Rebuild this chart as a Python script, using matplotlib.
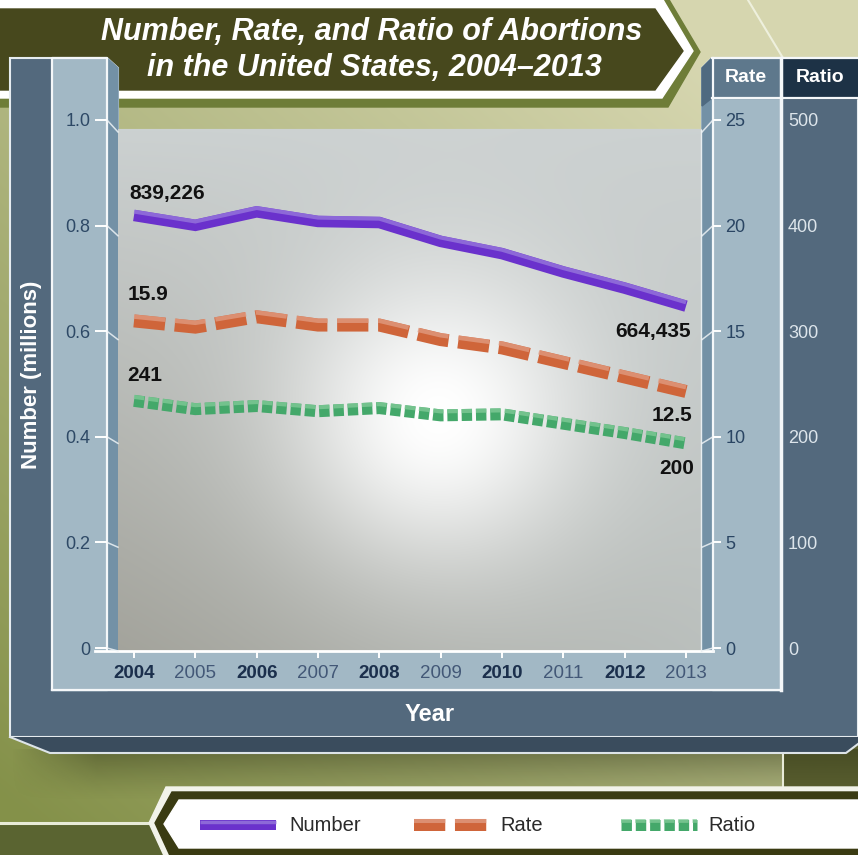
import numpy as np
import matplotlib
matplotlib.use("Agg")
import matplotlib.pyplot as plt
from matplotlib import font_manager
from matplotlib.patches import Polygon, Rectangle
from matplotlib.lines import Line2D
import matplotlib.transforms as mtransforms

# ---------------------------------------------------------------- data
years = [2004, 2005, 2006, 2007, 2008, 2009, 2010, 2011, 2012, 2013]
number_millions = [0.839226, 0.820151, 0.846181, 0.827609, 0.825564,
                   0.789217, 0.765651, 0.730322, 0.699202, 0.664435]
rate_per_1000 = [15.9, 15.6, 16.1, 15.7, 15.7, 15.0, 14.6, 13.9, 13.2, 12.5]
ratio_per_1000 = [241, 233, 236, 231, 234, 227, 228, 219, 210, 200]

number_ticks = [0, 0.2, 0.4, 0.6, 0.8, 1.0]
number_tick_labels = ["0", "0.2", "0.4", "0.6", "0.8", "1.0"]
rate_ticks = [0, 5, 10, 15, 20, 25]
ratio_ticks = [0, 100, 200, 300, 400, 500]

title_lines = ["Number, Rate, and Ratio of Abortions",
               "in the United States, 2004\u20132013"]
legend_labels = ["Number", "Rate", "Ratio"]

# ---------------------------------------------------------------- style
plt.rcParams["lines.scale_dashes"] = False
plt.rcParams["font.family"] = ["Liberation Sans", "DejaVu Sans"]

NUM_C, NUM_L = "#6A31CC", "#9677DC"
RATE_C, RATE_L = "#CF653A", "#E09A80"
RATIO_C, RATIO_L = "#44A86A", "#7FC996"

DARK_SLATE = "#53697D"
LIGHT_SLATE = "#A2B8C5"
WALL = "#7391A6"
NAVY = "#1D3246"


def has_font(name):
    try:
        font_manager.findfont(font_manager.FontProperties(family=name),
                              fallback_to_default=False)
        return True
    except Exception:
        return False


NARROW = "Liberation Sans Narrow" if has_font("Liberation Sans Narrow") else None

W, H = 858, 855
fig = plt.figure(figsize=(W / 100, H / 100), dpi=100)


def frac(x0, y0, x1, y1):
    """Pixel box (top-left origin) -> figure fraction rect."""
    return [x0 / W, 1 - y1 / H, (x1 - x0) / W, (y1 - y0) / H]


# ---------------------------------------------------------------- backdrop
bg = fig.add_axes([0, 0, 1, 1])
bg.set_xlim(0, W)
bg.set_ylim(H, 0)
bg.axis("off")

yy, xx = np.mgrid[0:H, 0:W].astype(float)
pale = np.array([0.84, 0.84, 0.69])
olive = np.array([0.52, 0.57, 0.29])
w = np.clip(0.55 * (1 - xx / W) + 0.65 * (yy / H) - 0.15, 0, 1)[..., None]
bg_img = pale * (1 - w) + olive * w
bg.imshow(bg_img, extent=(0, W, H, 0), aspect="auto", zorder=0,
          interpolation="bilinear")

# darker ground strips near the legend
bg.add_patch(Rectangle((0, 823), 175, 40, color="#5A6431", zorder=1))
bg.plot([0, 152], [823, 823], color="#E8EBD8", lw=2.2, zorder=1.2)
bg.add_patch(Rectangle((783, 745), 80, 45, color="#5B6030", zorder=1))
bg.plot([783, 783], [745, 790], color="#E8EBD8", lw=1.5, zorder=1.2)
bg.plot([748, 783], [0, 58], color="#EEF0DD", lw=1.5, zorder=1.2)

# soft shadow under the frame
sh_y, sh_x = np.mgrid[0:50, 0:200].astype(float)
shadow = np.zeros((50, 200, 4))
shadow[..., :3] = (0.2, 0.22, 0.1)
shadow[..., 3] = (0.5 * (1 - sh_y / 50) ** 1.3
                  * np.clip(sh_x / 20, 0, 1))
bg.imshow(shadow, extent=(10, 858, 800, 750), aspect="auto", zorder=1.1,
          interpolation="bilinear")

# ---------------------------------------------------------------- title banner
bg.add_patch(Polygon([(0, -2), (668, -2), (700, 52), (668, 107), (0, 107)],
                     closed=True, color="#6E7D38", zorder=2))
bg.add_patch(Polygon([(0, -2), (662, -2), (693, 51), (662, 98), (0, 98)],
                     closed=True, color="#FFFFFF", zorder=2.1))
bg.add_patch(Polygon([(0, 9), (655, 9), (683, 51), (655, 90), (0, 90)],
                     closed=True, color="#47481D", zorder=2.2))
if NARROW:
    title_kw = dict(family=[NARROW, "Liberation Sans"], fontsize=24.5)
else:
    title_kw = dict(fontsize=22)
bg.text(372, 32, title_lines[0], color="white", fontweight="bold",
        fontstyle="italic", ha="center", va="center", zorder=2.5, **title_kw)
bg.text(374, 68, title_lines[1], color="white", fontweight="bold",
        fontstyle="italic", ha="center", va="center", zorder=2.5, **title_kw)

# ---------------------------------------------------------------- frame
frame = [(10, 58), (107, 58), (118, 68), (118, 130), (702, 130), (702, 68),
         (712, 58), (858, 58), (858, 737), (10, 737)]
bg.add_patch(Polygon(frame, closed=True, facecolor=DARK_SLATE,
                     edgecolor="#E6ECF0", lw=1.5, zorder=4))
bg.add_patch(Polygon([(10, 737), (858, 737), (858, 744), (846, 753), (50, 753)],
                     closed=True, facecolor="#3A4C5D", edgecolor="none",
                     zorder=4))
bg.plot([10, 50, 846, 858], [737, 753, 753, 744], color="#DDE4E8", lw=1.5,
        zorder=4.1)

# light faces
bg.add_patch(Rectangle((52, 58), 55, 632, color=LIGHT_SLATE, zorder=5))
bg.add_patch(Rectangle((52, 651), 728, 39, color=LIGHT_SLATE, zorder=5))
bg.add_patch(Rectangle((712, 98), 68, 592, color=LIGHT_SLATE, zorder=5))
bg.add_patch(Rectangle((712, 58), 68, 40, color="#5E788C", zorder=5))
bg.add_patch(Rectangle((783, 58), 75, 40, color=NAVY, zorder=5))
# side walls
bg.add_patch(Polygon([(107, 58), (118, 68), (118, 651), (107, 651)],
                     closed=True, color=WALL, zorder=5))
bg.add_patch(Polygon([(702, 68), (712, 58), (712, 651), (702, 651)],
                     closed=True, color=WALL, zorder=5))
bg.add_patch(Polygon([(702, 68), (712, 58), (712, 98), (702, 106)],
                     closed=True, color="#4F6A80", zorder=5.05))

# plot-area backdrop: grey with a soft white glow
ph, pw = 521, 584
gy, gx = np.mgrid[0:ph, 0:pw].astype(float)
top = np.array([0.80, 0.82, 0.82])
bottom_left = np.array([0.64, 0.64, 0.61])
bottom_right = np.array([0.73, 0.75, 0.74])
fy = (gy / ph)[..., None]
fx = (gx / pw)[..., None]
base = top * (1 - fy) + (bottom_left * (1 - fx) + bottom_right * fx) * fy
r = np.hypot(gx - 320, gy - 285)
glow = np.exp(-(r / 150.0) ** 2)[..., None]
plot_img = base * (1 - glow) + np.ones(3) * glow
bg.imshow(plot_img, extent=(118, 702, 651, 130), aspect="auto", zorder=5.1,
          interpolation="bilinear")

# white edges
edge_kw = dict(color="#F4F7F9", lw=1.6, zorder=6)
bg.plot([52, 52, 107, 107], [690, 58, 58, 651], **edge_kw)
bg.plot([52, 780], [690, 690], **edge_kw)
bg.plot([95, 713], [651, 651], color="white", lw=2, zorder=6)
bg.plot([713, 713], [58, 651], **edge_kw)
bg.plot([781, 781], [58, 690], color="#F4F7F9", lw=2.5, zorder=6)
bg.plot([712, 858], [98, 98], **edge_kw)
bg.plot([712, 858], [58, 58], **edge_kw)
bg.plot([701, 701], [130, 651], color="#E8EEF1", lw=1, zorder=6)

# axis titles and column headers
bg.text(32, 375, "Number (millions)", rotation=90, color="white",
        fontsize=16, fontweight="bold", ha="center", va="center", zorder=7)
bg.text(430, 714, "Year", color="white", fontsize=17, fontweight="bold",
        ha="center", va="center", zorder=7)
bg.text(746, 78, "Rate", color="white", fontsize=14, fontweight="bold",
        ha="center", va="center", zorder=7)
bg.text(820, 78, "Ratio", color="white", fontsize=14, fontweight="bold",
        ha="center", va="center", zorder=7)

# ---------------------------------------------------------------- legend box
bg.add_patch(Polygon([(166, 787), (860, 787), (860, 860), (166, 860),
                      (149, 823)], closed=True, color="#F2F3EA", zorder=3))
bg.add_patch(Polygon([(172, 792), (860, 792), (860, 860), (172, 860),
                      (155, 823)], closed=True, color="#3A3B12", zorder=3.1))
bg.add_patch(Polygon([(179, 800), (860, 800), (860, 848), (179, 848),
                      (164, 824)], closed=True, color="white", zorder=3.2))


# ---------------------------------------------------------------- line helper
def styled_line(axis, xs, ys, color, light, lw_px, dashes=None, z=3):
    lw = lw_px * 0.72
    kw = dict(solid_capstyle="butt", dash_capstyle="butt",
              solid_joinstyle="miter", dash_joinstyle="miter", zorder=z)
    if dashes is not None:
        kw["dashes"] = dashes
    axis.plot(xs, ys, color=color, lw=lw, **kw)
    shift = mtransforms.offset_copy(axis.transData, fig=fig, x=0,
                                    y=lw_px * 0.33, units="dots")
    axis.plot(xs, ys, color=light, lw=lw * 0.34, transform=shift,
              alpha=0.8, **kw)


RATE_DASH = (22.5, 7.0)
RATIO_DASH = (7.5, 2.8)

# legend samples
styled_line(bg, [200, 276], [825, 825], NUM_C, NUM_L, 10, z=3.5)
styled_line(bg, [414, 490], [825, 825], RATE_C, RATE_L, 12, RATE_DASH, z=3.5)
styled_line(bg, [621, 697], [825, 825], RATIO_C, RATIO_L, 11, RATIO_DASH,
            z=3.5)
for lx, txt in zip([289, 500, 708], legend_labels):
    bg.text(lx, 825, txt, color="#2A2A2A", fontsize=14.5, ha="left",
            va="center", zorder=3.6)

# ---------------------------------------------------------------- front scales
front = fig.add_axes(frac(107, 120, 713, 648))
front.set_zorder(3)
front.patch.set_visible(False)
front.set_xlim(0, 1)
front.set_ylim(0, 1)
front.set_xticks([])
front.set_yticks(number_ticks)
front.set_yticklabels(number_tick_labels)
front.tick_params(axis="y", direction="out", length=9, width=1.4,
                  color="white", labelcolor="#2E4966", labelsize=13, pad=3)

front_rate = front.twinx()
front_rate.set_zorder(3)
front_rate.patch.set_visible(False)
front_rate.set_ylim(0, 25)
front_rate.set_yticks(rate_ticks)
front_rate.tick_params(axis="y", direction="out", length=6, width=1.4,
                       color="white", labelcolor="#2A4563", labelsize=13,
                       pad=3)

front_ratio = front.twinx()
front_ratio.set_zorder(3)
front_ratio.patch.set_visible(False)
front_ratio.set_ylim(0, 500)
front_ratio.set_yticks(ratio_ticks)
front_ratio.tick_params(axis="y", length=0, labelcolor="#DDE5EB",
                        labelsize=13, pad=54)

# ---------------------------------------------------------------- data plane
step = (686 - 134) / 9
ax = fig.add_axes(frac(118, 132, 702, 651))
ax.set_zorder(2)
ax.patch.set_visible(False)
ax.set_xlim(2004 - 16 / step, 2013 + 16 / step)
ax.set_ylim(0, 1)
ax.set_yticks([])
ax.set_xticks(years)
ax.set_xticklabels([str(y) for y in years])
ax.tick_params(axis="x", direction="out", length=5, width=1.4, color="white",
               labelsize=13.5, pad=5)
for i, lab in enumerate(ax.get_xticklabels()):
    if i % 2 == 0:
        lab.set_fontweight("bold")
        lab.set_color("#1B2F4C")
    else:
        lab.set_color("#435877")

ax_rate = ax.twinx()
ax_rate.set_ylim(0, 25)
ax_rate.set_yticks([])
ax_ratio = ax.twinx()
ax_ratio.set_ylim(0, 500)
ax_ratio.set_yticks([])
for a in (ax_rate, ax_ratio):
    a.set_zorder(2)
    a.patch.set_visible(False)

for a in (front, front_rate, front_ratio, ax, ax_rate, ax_ratio):
    for s in a.spines.values():
        s.set_visible(False)

styled_line(ax, years, number_millions, NUM_C, NUM_L, 11.5)
styled_line(ax_rate, years, rate_per_1000, RATE_C, RATE_L, 13, RATE_DASH)
styled_line(ax_ratio, years, ratio_per_1000, RATIO_C, RATIO_L, 12, RATIO_DASH)

# end-point value labels
lab_kw = dict(textcoords="offset points", ha="center", va="center",
              fontsize=15, fontweight="bold", color="#111111", zorder=5)
ax.annotate(f"{round(number_millions[0] * 1e6):,}",
            (years[0], number_millions[0]), xytext=(24, 16), **lab_kw)
ax.annotate(f"{round(number_millions[-1] * 1e6):,}",
            (years[-1], number_millions[-1]), xytext=(-24, -18), **lab_kw)
ax_rate.annotate(f"{rate_per_1000[0]}", (years[0], rate_per_1000[0]),
                 xytext=(10, 19), **lab_kw)
ax_rate.annotate(f"{rate_per_1000[-1]}", (years[-1], rate_per_1000[-1]),
                 xytext=(-10, -17), **lab_kw)
ax_ratio.annotate(f"{ratio_per_1000[0]}", (years[0], ratio_per_1000[0]),
                  xytext=(8, 18), **lab_kw)
ax_ratio.annotate(f"{ratio_per_1000[-1]}", (years[-1], ratio_per_1000[-1]),
                  xytext=(-7, -18), **lab_kw)

# perspective connectors from the front scales to the back plane
to_fig = fig.transFigure.inverted()
x0, x1 = ax.get_xlim()
for v in number_ticks:
    a = to_fig.transform(front.transData.transform((0, v)))
    b = to_fig.transform(ax.transData.transform((x0, v)))
    fig.add_artist(Line2D([a[0], b[0]], [a[1], b[1]], color="#EEF3F6",
                          lw=1.1, alpha=0.85, zorder=3))
for v in rate_ticks:
    a = to_fig.transform(front_rate.transData.transform((1, v)))
    b = to_fig.transform(ax_rate.transData.transform((x1, v)))
    fig.add_artist(Line2D([a[0], b[0]], [a[1], b[1]], color="#EEF3F6",
                          lw=1.1, alpha=0.85, zorder=3))

fig.savefig("out.png", dpi=100)
